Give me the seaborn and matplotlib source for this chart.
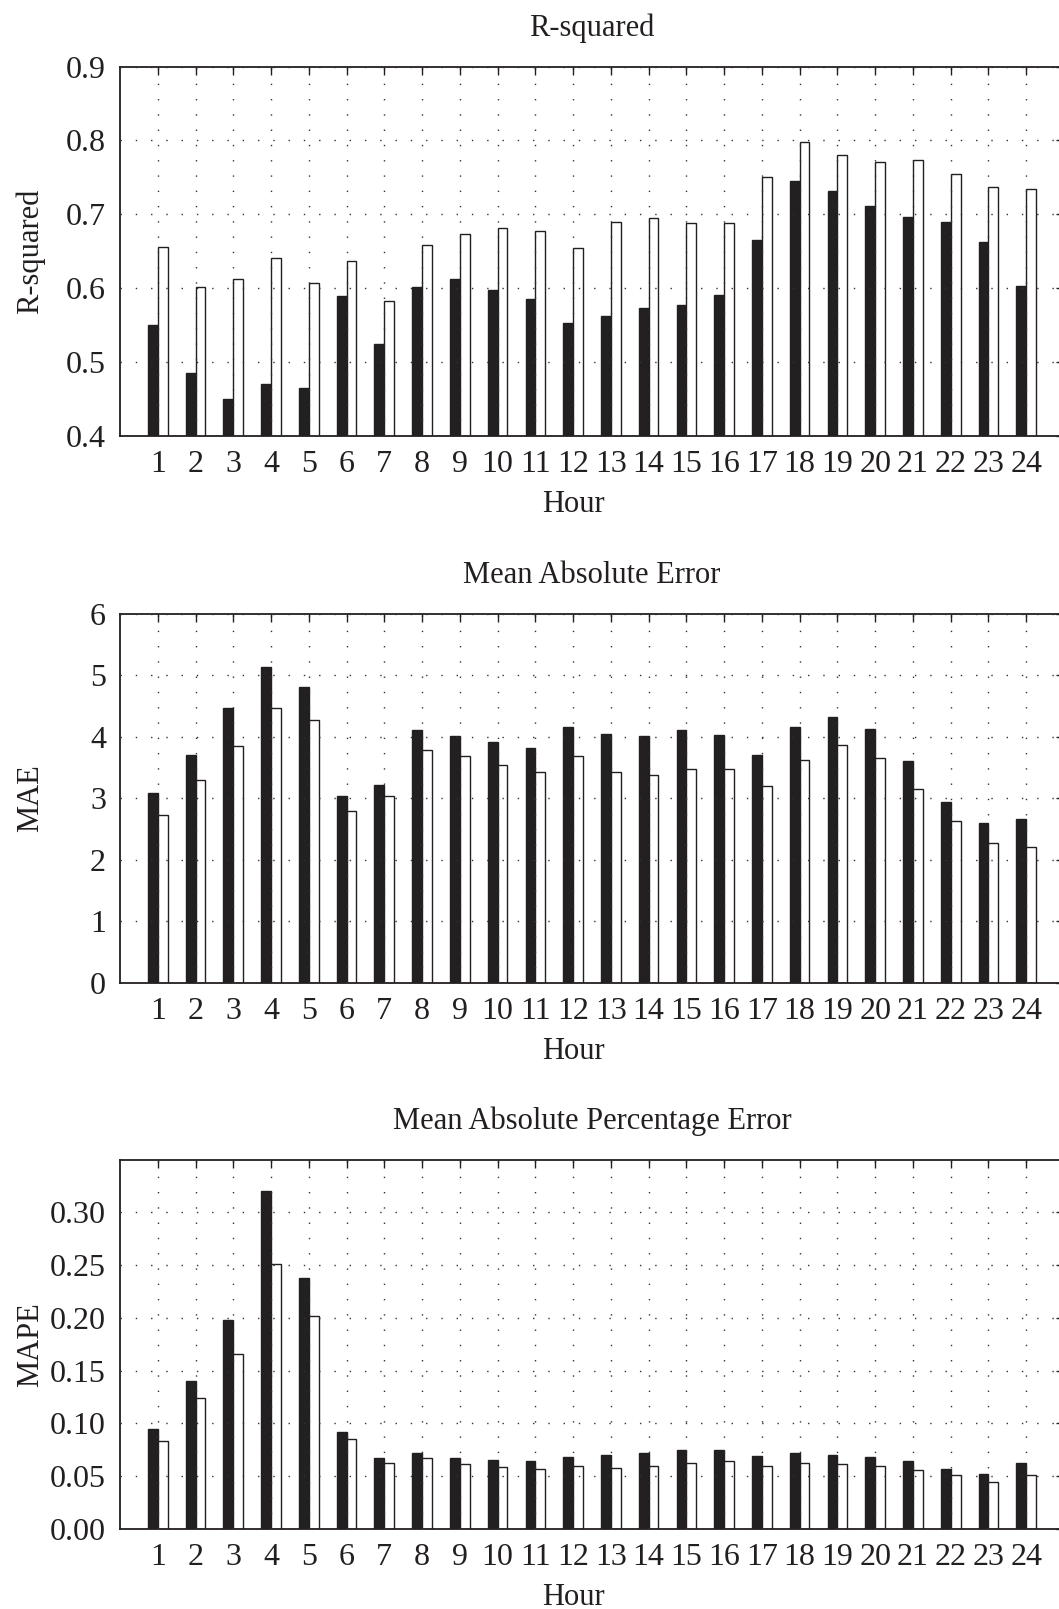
import numpy as np
import pandas as pd
import matplotlib
matplotlib.use("Agg")
import matplotlib.pyplot as plt
import seaborn as sns

# Hours and the two compared series (dark = first model, white = second model)
hours = list(range(1, 25))
series_names = ["Model 1", "Model 2"]

r2_dark = [0.550, 0.485, 0.450, 0.471, 0.465, 0.590, 0.524, 0.602, 0.613, 0.597, 0.585, 0.553,
           0.563, 0.573, 0.577, 0.591, 0.665, 0.745, 0.732, 0.712, 0.696, 0.690, 0.663, 0.603]
r2_white = [0.656, 0.602, 0.612, 0.641, 0.607, 0.637, 0.583, 0.658, 0.674, 0.682, 0.677, 0.655,
            0.690, 0.695, 0.689, 0.688, 0.750, 0.798, 0.781, 0.771, 0.774, 0.754, 0.737, 0.735]

mae_dark = [3.09, 3.71, 4.46, 5.13, 4.81, 3.03, 3.22, 4.11, 4.01, 3.91, 3.82, 4.15,
            4.05, 4.01, 4.10, 4.02, 3.71, 4.15, 4.32, 4.12, 3.61, 2.94, 2.60, 2.66]
mae_white = [2.72, 3.29, 3.85, 4.47, 4.27, 2.80, 3.04, 3.79, 3.69, 3.54, 3.42, 3.69,
             3.42, 3.38, 3.47, 3.47, 3.20, 3.62, 3.87, 3.65, 3.15, 2.63, 2.27, 2.20]

mape_dark = [0.095, 0.140, 0.198, 0.320, 0.238, 0.092, 0.067, 0.072, 0.067, 0.065, 0.064, 0.068,
             0.070, 0.072, 0.075, 0.075, 0.069, 0.072, 0.070, 0.068, 0.064, 0.057, 0.052, 0.063]
mape_white = [0.083, 0.124, 0.166, 0.251, 0.202, 0.085, 0.063, 0.067, 0.062, 0.059, 0.057, 0.060,
              0.058, 0.060, 0.063, 0.064, 0.060, 0.063, 0.062, 0.060, 0.056, 0.051, 0.045, 0.051]

r2_ticks = [0.4, 0.5, 0.6, 0.7, 0.8, 0.9]
mae_ticks = [0, 1, 2, 3, 4, 5, 6]
mape_ticks = [0.00, 0.05, 0.10, 0.15, 0.20, 0.25, 0.30]

sns.set_theme(style="white")
plt.rcParams['font.family'] = ['Liberation Serif', 'DejaVu Serif']

ink = "#231f20"
palette = {series_names[0]: ink, series_names[1]: "white"}

fig = plt.figure(figsize=(10.59, 16.09), dpi=100)

panels = [
    ("R-squared", "R-squared", r2_dark, r2_white, (0.4, 0.9), r2_ticks, "{:.1f}", 0.7290),
    ("Mean Absolute Error", "MAE", mae_dark, mae_white, (0, 6), mae_ticks, "{:d}", 0.3891),
    ("Mean Absolute Percentage Error", "MAPE", mape_dark, mape_white, (0, 0.35), mape_ticks, "{:.2f}", 0.0497),
]

for title, ylab, dark, white, ylim, yticks, fmt, bottom in panels:
    ax = fig.add_axes([0.1133, bottom, 0.8914, 0.2296])
    df = pd.DataFrame({
        "hour": [str(h) for h in hours] * 2,
        "model": [series_names[0]] * len(hours) + [series_names[1]] * len(hours),
        "value": list(dark) + list(white),
    })
    sns.barplot(data=df, x="hour", y="value", hue="model", order=[str(h) for h in hours],
                hue_order=series_names, palette=palette, width=0.52, errorbar=None,
                edgecolor=ink, linewidth=1.0, legend=False, ax=ax)

    ax.set_xlim(-1, 24)
    ax.set_ylim(*ylim)
    ax.set_xticks(range(24))
    ax.set_xticklabels([str(h) for h in hours])
    ax.set_yticks(yticks)
    ax.set_yticklabels([fmt.format(t) for t in yticks])

    ax.grid(True, linestyle=(0, (1, 10)), color="#333333", linewidth=1.0)
    ax.set_axisbelow(False)
    for s in ax.spines.values():
        s.set_visible(True)
        s.set_color(ink)
        s.set_linewidth(1.3)
    ax.tick_params(direction="in", top=True, right=True, length=6, width=1.0,
                   color=ink, labelsize=23, pad=10, labelcolor=ink)

    ax.set_title(title, fontsize=22, pad=22, color=ink)
    ax.set_xlabel("Hour", fontsize=22, color=ink)
    ax.set_ylabel(ylab, fontsize=22, color=ink)
    ax.xaxis.set_label_coords(0.48, -0.145)
    ax.yaxis.set_label_coords(-0.079, 0.5)

fig.savefig("out.png", dpi=100)
